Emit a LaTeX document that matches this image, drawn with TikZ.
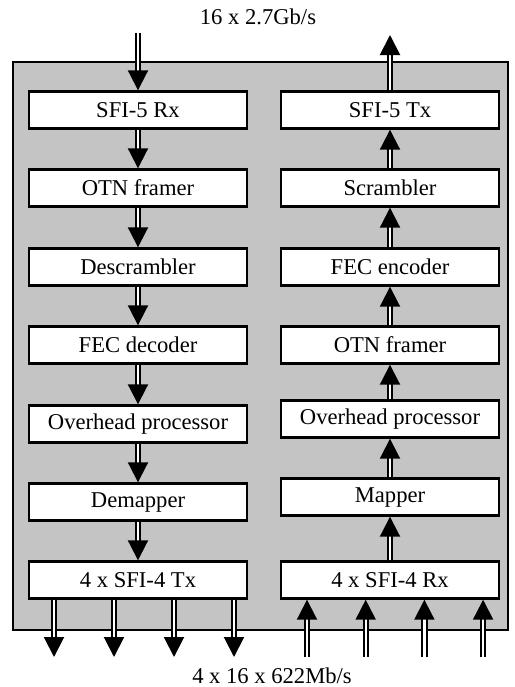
\documentclass[tikz,border=0pt]{standalone}
\usepackage{fontspec}
\setmainfont{Liberation Serif}
\usetikzlibrary{arrows.meta}
\definecolor{panelgray}{RGB}{196,196,196}

\begin{document}
\begin{tikzpicture}[x=0.5pt, y=-0.5pt,
  blk/.style={draw, line width=1.2pt, fill=white, minimum width=109pt,
    minimum height=18.5pt, inner sep=0pt, font=\fontsize{11.3}{13}\selectfont},
  dbl/.style={line width=1pt, double, double distance=1.1pt,
    -{Triangle[width=10pt,length=10pt]}},
  lbl/.style={font=\fontsize{11.3}{13}\selectfont}]
  \useasboundingbox (0,0) rectangle (515,687);

  % Chip outline
  \draw[fill=panelgray, line width=1pt] (13,62) rectangle (508,630);

  % Receive path
  \node[blk] (rx5)   at (138,110) {SFI-5 Rx};
  \node[blk] (otnr)  at (138,188) {OTN framer};
  \node[blk] (dscr)  at (138,267) {Descrambler};
  \node[blk] (fecd)  at (138,345) {FEC decoder};
  \node[blk] (ohr)   at (138,424) {Overhead processor};
  \node[blk] (demap) at (138,502) {Demapper};
  \node[blk] (tx4)   at (138,580) {4 x SFI-4 Tx};

  % Transmit path
  \node[blk] (tx5)   at (390,110) {SFI-5 Tx};
  \node[blk] (scr)   at (390,188) {Scrambler};
  \node[blk] (fece)  at (390,267) {FEC encoder};
  \node[blk] (otnt)  at (390,345) {OTN framer};
  \node[blk] (oht)   at (390,419) {Overhead processor};
  \node[blk] (map)   at (390,497) {Mapper};
  \node[blk] (rx4)   at (390,580) {4 x SFI-4 Rx};

  % Line side
  \node[lbl] (hi) at (258,17) {16 x 2.7Gb/s};
  \coordinate (in5)  at (138,33);
  \coordinate (out5) at (390,35);
  \draw[dbl] (in5) -- (rx5);
  \draw[dbl] (tx5) -- (out5);

  % Flow between blocks
  \draw[dbl] (rx5) -- (otnr);
  \draw[dbl] (otnr) -- (dscr);
  \draw[dbl] (dscr) -- (fecd);
  \draw[dbl] (fecd) -- (ohr);
  \draw[dbl] (ohr) -- (demap);
  \draw[dbl] (demap) -- (tx4);
  \draw[dbl] (rx4) -- (map);
  \draw[dbl] (map) -- (oht);
  \draw[dbl] (oht) -- (otnt);
  \draw[dbl] (otnt) -- (fece);
  \draw[dbl] (fece) -- (scr);
  \draw[dbl] (scr) -- (tx5);

  % Client side
  \foreach \i in {0,...,3} {
    \coordinate (o\i) at (54+60*\i,657);
    \coordinate (r\i) at (307+58.7*\i,657);
    \draw[dbl] (o\i |- tx4.south) -- (o\i);
    \draw[dbl] (r\i) -- (r\i |- rx4.south);
  }
  \node[lbl] (lo) at (272,676) {4 x 16 x 622Mb/s};
\end{tikzpicture}
\end{document}
